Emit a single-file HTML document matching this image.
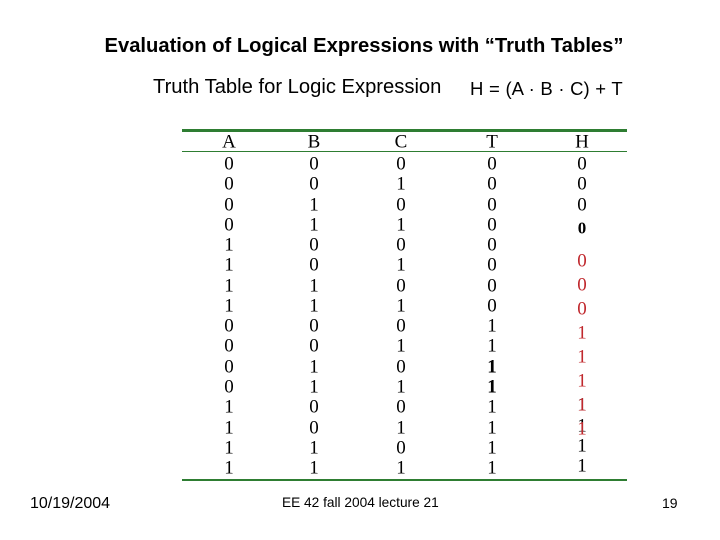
<!DOCTYPE html>
<html><head><meta charset="utf-8"><style>
body{margin:0;width:720px;height:540px;background:#fff;position:relative;overflow:hidden;font-family:"Liberation Sans",sans-serif}
.t{position:absolute;white-space:nowrap}
.c{position:absolute;font-family:"Liberation Serif",serif;font-size:19px;transform:translate(-50%,-50%);line-height:1}
.ln{position:absolute;background:#2e7d32}
</style></head><body>
<div class="t" style="left:0;width:728px;text-align:center;top:35px;font-size:20.2px;font-weight:bold">Evaluation of Logical Expressions with “Truth Tables”</div>
<div class="t" style="left:153px;top:76px;font-size:20.2px">Truth Table for Logic Expression</div>
<div class="t" style="left:470px;top:78px;font-size:18.5px;word-spacing:0.5px">H = (A · B · C) + T</div>
<div class="ln" style="left:182px;top:129px;width:445px;height:3px"></div>
<div class="ln" style="left:182px;top:151px;width:445px;height:1px"></div>
<div class="ln" style="left:182px;top:479px;width:445px;height:2px"></div>
<div id="tbl"></div>
<div class="t" style="left:30px;top:495px;font-size:16px">10/19/2004</div>
<div class="t" style="left:282px;top:495px;font-size:13.7px">EE 42 fall 2004 lecture 21</div>
<div class="t" style="left:662px;top:495px;font-size:14px">19</div>
<script>
const headers=["A","B","C","T","H"];
const colA=[0,0,0,0,1,1,1,1,0,0,0,0,1,1,1,1];
const colB=[0,0,1,1,0,0,1,1,0,0,1,1,0,0,1,1];
const colC=[0,1,0,1,0,1,0,1,0,1,0,1,0,1,0,1];
const colT=[0,0,0,0,0,0,0,0,1,1,1,1,1,1,1,1];
const colH=[0,0,0,0,0,0,0,0,1,1,1,1,1,1,1,1];
const redH=[0,0,0,1,1,1,1,1];
const xs=[229,314,401,492,582];
const tbl=document.getElementById('tbl');
function cell(txt,x,y,extra){const d=document.createElement('div');d.className='c';d.textContent=txt;d.style.left=x+'px';d.style.top=y+'px';if(extra)Object.assign(d.style,extra);tbl.appendChild(d);return d;}
headers.forEach((h,i)=>{const d=cell(h,xs[i],142);

});
const rowY=r=>164+r*20.27;
[colA,colB,colC,colT].forEach((col,ci)=>col.forEach((v,r)=>{const d=cell(String(v),xs[ci],rowY(r),(ci==3&&(r==10||r==11))?{fontWeight:'bold'}:null);

}));
[0,1,2,3].forEach(r=>{const d=cell(String(colH[r]),xs[4],r==3?228:rowY(r),r==3?{fontWeight:'bold',fontSize:'17px'}:null);

});
[12,13,14,15].forEach(r=>{const d=cell(String(colH[r]),xs[4],rowY(r)-2);

});
redH.forEach((v,i)=>{const d=cell(String(v),xs[4],261+i*24,{color:'#c0282d'});

});
</script>
</body></html>
